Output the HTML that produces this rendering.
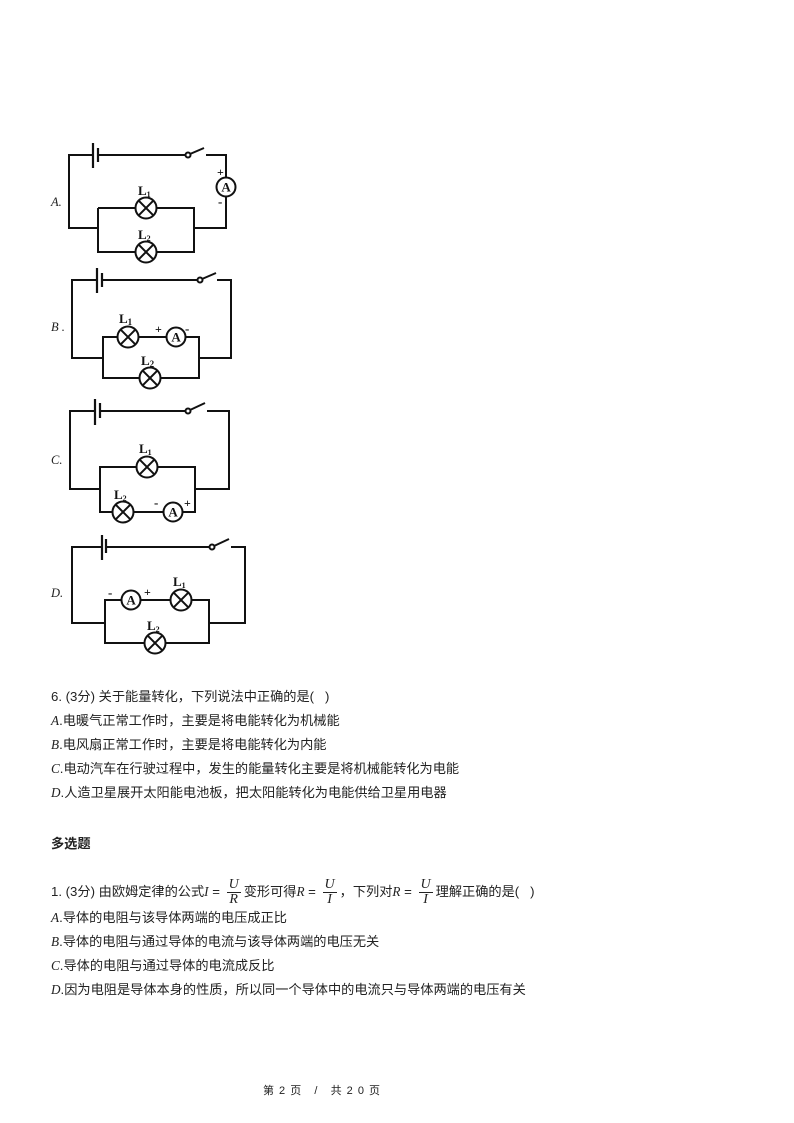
<!DOCTYPE html>
<html><head><meta charset="utf-8"><style>
body{margin:0;background:#fff;}
.pg{position:relative;width:794px;height:1123px;overflow:hidden;background:#fff;font-family:"Liberation Sans","Noto Sans CJK SC",sans-serif;color:#222;}
.t{position:absolute;left:51px;font-size:13.2px;white-space:nowrap;line-height:16px;}
i{font-family:"Liberation Serif",serif;}
svg{position:absolute;left:0;top:0;}
svg path{fill:none;}
.f{display:inline-block;vertical-align:middle;text-align:center;font-family:"Liberation Serif",serif;font-style:italic;font-size:14px;line-height:14px;margin:0 3px;}
.f span{display:block;}
.f span:first-child{border-bottom:1px solid #222;padding:0 2px;}
</style></head><body><div class="pg">
<svg width="794" height="700" viewBox="0 0 794 700" stroke="#111" stroke-width="2">
<defs>
<g id="lamp"><circle r="10.5" fill="#fff"/><path d="M-7.4,-7.4L7.4,7.4M-7.4,7.4L7.4,-7.4"/></g>
<g id="amm"><circle r="9.5" fill="#fff"/><text x="0" y="4.5" text-anchor="middle" font-family="Liberation Serif" font-weight="bold" font-size="13" fill="#111" stroke="none">A</text></g>
</defs>
<g font-family="Liberation Serif" font-size="13" font-weight="bold" fill="#111">
<!-- A -->
<path d="M93,155H69V228H98M98,155H186M206,155H226V228H194M98,208V252H194V208H98"/>
<path d="M93,143V168M98,148V162" stroke-width="2.2"/>
<circle cx="188" cy="155" r="2.5" fill="#fff"/><path d="M190,154L204,148"/>
<use href="#amm" x="226" y="187"/>
<use href="#lamp" x="146" y="208"/><use href="#lamp" x="146" y="252"/>
<text x="138" y="195" stroke="none">L<tspan font-size="8" dy="2">1</tspan></text>
<text x="138" y="239" stroke="none">L<tspan font-size="8" dy="2">2</tspan></text>
<text x="217" y="176" stroke="none" font-size="12">+</text><text x="218" y="206" stroke="none" font-size="13">-</text>
<!-- B -->
<path d="M97,280H72V358H103M103,280H198M217,280H231V358H199M103,358V337H199V358M103,358V378H199V358"/>
<path d="M97,268V293M102,273V287" stroke-width="2.2"/>
<circle cx="200" cy="280" r="2.5" fill="#fff"/><path d="M202,279L216,273"/>
<use href="#lamp" x="128" y="337"/><use href="#amm" x="176" y="337"/><use href="#lamp" x="150" y="378"/>
<text x="119" y="323" stroke="none">L<tspan font-size="9" dy="2">1</tspan></text>
<text x="141" y="365" stroke="none">L<tspan font-size="9" dy="2">2</tspan></text>
<text x="155" y="333" stroke="none" font-size="12">+</text><text x="185" y="333" stroke="none">-</text>
<!-- C -->
<path d="M95,411H70V489H100M100,411H187M207,411H229V489H195M100,489V467H195V489M100,489V512H195V489"/>
<path d="M95,399V425M100,403V418" stroke-width="2.2"/>
<circle cx="188" cy="411" r="2.5" fill="#fff"/><path d="M190,410L205,403"/>
<use href="#lamp" x="147" y="467"/><use href="#lamp" x="123" y="512"/><use href="#amm" x="173" y="512"/>
<text x="139" y="453" stroke="none">L<tspan font-size="8" dy="2">1</tspan></text>
<text x="114" y="499" stroke="none">L<tspan font-size="8" dy="2">2</tspan></text>
<text x="154" y="507" stroke="none">-</text><text x="184" y="507" stroke="none" font-size="12">+</text>
<!-- D -->
<path d="M102,547H72V623H105M105,547H211M231,547H245V623H209M105,623V600H209V623M105,623V643H209V623"/>
<path d="M102,535V560M106,539V553" stroke-width="2.2"/>
<circle cx="212" cy="547" r="2.5" fill="#fff"/><path d="M214,546L229,539"/>
<use href="#amm" x="131" y="600"/><use href="#lamp" x="181" y="600"/><use href="#lamp" x="155" y="643"/>
<text x="173" y="586" stroke="none">L<tspan font-size="8" dy="2">1</tspan></text>
<text x="147" y="630" stroke="none">L<tspan font-size="8" dy="2">2</tspan></text>
<text x="108" y="597" stroke="none">-</text><text x="144" y="596" stroke="none" font-size="12">+</text>
</g>
<g font-family="Liberation Serif" font-style="italic" font-size="12.5" fill="#222" stroke="none">
<text x="51" y="206">A.</text><text x="51" y="331">B .</text><text x="51" y="464">C.</text><text x="51" y="597">D.</text>
</g>
</svg>
<div class="t" style="top:689px">6. (3分) 关于能量转化，下列说法中正确的是(&nbsp;&nbsp;&nbsp;)</div>
<div class="t" style="top:713px"><i>A</i>.电暖气正常工作时，主要是将电能转化为机械能</div>
<div class="t" style="top:737px"><i>B</i>.电风扇正常工作时，主要是将电能转化为内能</div>
<div class="t" style="top:761px"><i>C</i>.电动汽车在行驶过程中，发生的能量转化主要是将机械能转化为电能</div>
<div class="t" style="top:785px"><i>D</i>.人造卫星展开太阳能电池板，把太阳能转化为电能供给卫星用电器</div>
<div class="t" style="top:836px;font-weight:bold">多选题</div>
<div class="t" style="top:876px;line-height:32px">1. (3分) 由欧姆定律的公式<i>I</i> = <span class="f"><span>U</span><span>R</span></span>变形可得<i>R</i> = <span class="f"><span>U</span><span>I</span></span>，下列对<i>R</i> = <span class="f"><span>U</span><span>I</span></span>理解正确的是(&nbsp;&nbsp;&nbsp;)</div>
<div class="t" style="top:910px"><i>A</i>.导体的电阻与该导体两端的电压成正比</div>
<div class="t" style="top:934px"><i>B</i>.导体的电阻与通过导体的电流与该导体两端的电压无关</div>
<div class="t" style="top:958px"><i>C</i>.导体的电阻与通过导体的电流成反比</div>
<div class="t" style="top:982px"><i>D</i>.因为电阻是导体本身的性质，所以同一个导体中的电流只与导体两端的电压有关</div>
<div class="t" style="top:1083px;left:263px;font-size:11px;letter-spacing:1px">第 2 页 &nbsp; / &nbsp; 共 2 0 页</div>
</div></body></html>
